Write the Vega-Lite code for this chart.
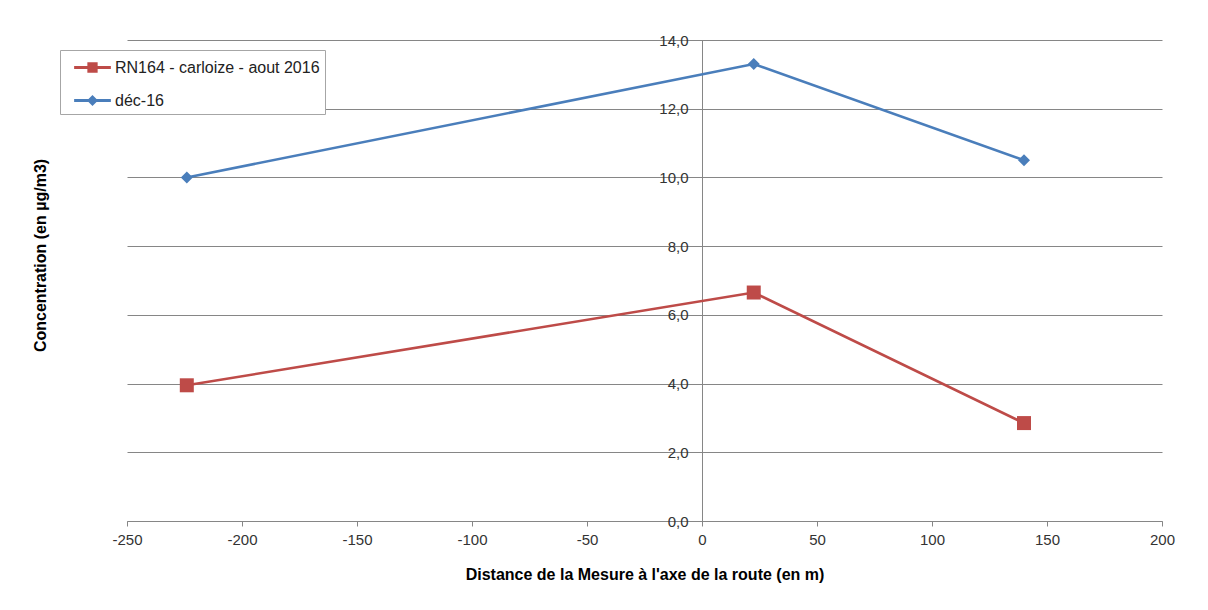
{
  "$schema": "https://vega.github.io/schema/vega-lite/v6.json",
  "width": 1035,
  "height": 481,
  "autosize": "none",
  "padding": {"left": 127, "top": 40, "right": 46, "bottom": 89},
  "background": "white",
  "config": {"view": {"stroke": null}, "font": "Liberation Sans"},
  "data": {
    "values": [
      {"serie": "RN164 - carloize - aout 2016", "distance": -224, "concentration": 3.95},
      {"serie": "RN164 - carloize - aout 2016", "distance": 22.5, "concentration": 6.65},
      {"serie": "RN164 - carloize - aout 2016", "distance": 140, "concentration": 2.85},
      {"serie": "déc-16", "distance": -224, "concentration": 10.0},
      {"serie": "déc-16", "distance": 22.5, "concentration": 13.3},
      {"serie": "déc-16", "distance": 140, "concentration": 10.5}
    ]
  },
  "encoding": {
    "x": {
      "field": "distance",
      "type": "quantitative",
      "scale": {"domain": [-250, 200], "nice": false, "zero": false},
      "axis": {
        "values": [-250, -200, -150, -100, -50, 0, 50, 100, 150, 200],
        "title": "Distance de la Mesure à l'axe de la route (en m)",
        "grid": false,
        "domainColor": "#868686",
        "tickColor": "#868686",
        "tickSize": 5,
        "labelFontSize": 15,
        "labelColor": "#333333",
        "labelPadding": 6,
        "labelFlush": false,
        "labelOverlap": false,
        "labelExpr": "'' + datum.value",
        "titleFontSize": 16,
        "titleFontWeight": "bold",
        "titleColor": "#000000",
        "titleY": 53,
        "titleBaseline": "middle"
      }
    },
    "y": {
      "field": "concentration",
      "type": "quantitative",
      "scale": {"domain": [0, 14], "nice": false},
      "axis": {
        "values": [0, 2, 4, 6, 8, 10, 12, 14],
        "offset": -575,
        "grid": true,
        "gridColor": "#868686",
        "domainColor": "#868686",
        "tickColor": "#868686",
        "tickSize": 6,
        "labelPadding": 8,
        "labelFontSize": 15,
        "labelColor": "#333333",
        "labelFlush": false,
        "labelOverlap": false,
        "labelExpr": "replace(format(datum.value, '.1f'), '.', ',')",
        "title": "Concentration (en µg/m3)",
        "titleFontSize": 16,
        "titleFontWeight": "bold",
        "titleColor": "#000000",
        "titleX": -662,
        "titleY": 215,
        "titleAngle": -90,
        "titleAlign": "center",
        "titleBaseline": "middle"
      }
    }
  },
  "layer": [
    {
      "mark": {"type": "line", "strokeWidth": 2.6},
      "encoding": {
        "color": {
          "field": "serie",
          "type": "nominal",
          "scale": {
            "domain": ["RN164 - carloize - aout 2016", "déc-16"],
            "range": ["#BE4B48", "#4A7EBB"]
          },
          "legend": {
            "orient": "none",
            "legendX": -67,
            "legendY": 10,
            "title": null,
            "fillColor": "white",
            "strokeColor": "#A6A6A6",
            "padding": 5,
            "labelFontSize": 16,
            "labelColor": "#222222",
            "labelLimit": 0,
            "symbolSize": 600,
            "symbolStrokeWidth": 0,
            "symbolOffset": 15,
            "labelOffset": 10,
            "rowPadding": 12,
            "encode": {
              "symbols": {
                "update": {
                  "shape": {"signal": "datum.value === 'déc-16' ? 'M-1.5,-0.12H1.5V0.12H-1.5Z M0,-0.45L0.45,0L0,0.45L-0.45,0Z' : 'M-1.5,-0.12H1.5V0.12H-1.5Z M-0.42,-0.42H0.42V0.42H-0.42Z'"},
                  "fill": {"scale": "color", "field": "value"},
                  "strokeWidth": {"value": 0},
                  "opacity": {"value": 1}
                }
              }
            }
          }
        }
      }
    },
    {
      "transform": [{"filter": "datum.serie === 'RN164 - carloize - aout 2016'"}],
      "mark": {"type": "point", "filled": true, "opacity": 1, "shape": "square", "size": 196, "color": "#BE4B48"}
    },
    {
      "transform": [{"filter": "datum.serie === 'déc-16'"}],
      "mark": {"type": "point", "filled": true, "opacity": 1, "shape": "diamond", "size": 144, "color": "#4A7EBB"}
    }
  ]
}
